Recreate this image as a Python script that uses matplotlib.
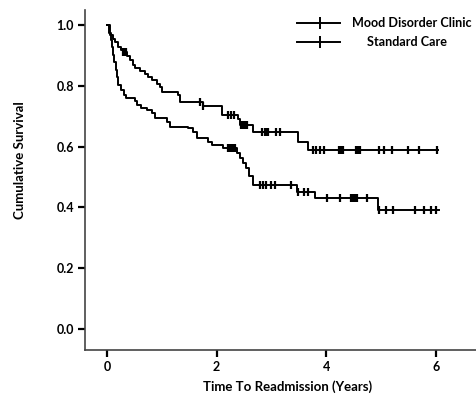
import matplotlib
matplotlib.use("Agg")
import matplotlib.pyplot as plt
from matplotlib.lines import Line2D

plt.rcParams['font.family'] = ['Lato', 'DejaVu Sans']
plt.rcParams['font.weight'] = 'bold'

# Mood Disorder Clinic: event times and survival after each event
mdc_times = [0.0, 0.055, 0.11, 0.146, 0.20, 0.255, 0.29, 0.365, 0.42, 0.47, 0.51, 0.60,
             0.69, 0.75, 0.82, 0.91, 0.97, 1.00, 1.30, 1.33, 1.75, 2.10, 2.39, 2.43,
             2.66, 3.49, 3.67, 6.04]
mdc_surv = [1.0, 0.967, 0.955, 0.944, 0.928, 0.918, 0.911, 0.898, 0.885, 0.868, 0.859, 0.849,
            0.839, 0.829, 0.819, 0.806, 0.796, 0.780, 0.770, 0.748, 0.733, 0.704, 0.690, 0.671,
            0.648, 0.615, 0.590, 0.590]
mdc_censor = [0.30, 0.32, 0.34, 1.70, 1.76, 2.21, 2.26, 2.32, 2.44, 2.48, 2.52, 2.56,
              2.83, 2.88, 2.90, 2.94, 3.08, 3.16, 3.76, 3.81, 3.89, 3.96,
              4.23, 4.25, 4.27, 4.29, 4.31, 4.54, 4.56, 4.58, 4.60, 4.62,
              4.96, 5.05, 5.20, 5.49, 5.69, 6.02]

# Standard Care
sc_times = [0.0, 0.04, 0.07, 0.09, 0.11, 0.13, 0.16, 0.18, 0.20, 0.255, 0.31, 0.35, 0.51,
            0.55, 0.62, 0.73, 0.82, 0.88, 1.09, 1.15, 1.48, 1.57, 1.64, 1.84, 1.92, 2.12,
            2.37, 2.43, 2.48, 2.54, 2.59, 2.66, 3.47, 3.80, 4.95, 6.06]
sc_surv = [1.0, 0.974, 0.95, 0.928, 0.90, 0.878, 0.852, 0.829, 0.803, 0.786, 0.770, 0.760, 0.750,
           0.737, 0.727, 0.720, 0.710, 0.694, 0.681, 0.664, 0.661, 0.648, 0.628, 0.615, 0.605, 0.595,
           0.579, 0.5625, 0.546, 0.530, 0.503, 0.472, 0.450, 0.432, 0.390, 0.390]
sc_censor = [2.21, 2.24, 2.27, 2.30, 2.33, 2.79, 2.85, 2.90, 3.00, 3.07, 3.36,
             3.49, 3.60, 3.67, 4.01, 4.25, 4.45, 4.49, 4.53, 4.57, 4.74,
             4.96, 5.09, 5.22, 5.62, 5.78, 5.91, 6.00]

series_names = ["Mood Disorder Clinic", "Standard Care"]
x_ticks = [0, 2, 4, 6]
y_ticks = [0.0, 0.2, 0.4, 0.6, 0.8, 1.0]


def surv_at(times, surv, t):
    s = surv[0]
    for ti, si in zip(times, surv):
        if ti <= t:
            s = si
        else:
            break
    return s


W, H = 477, 395
fig = plt.figure(figsize=(W / 100, H / 100), dpi=100)
ax = fig.add_axes([85 / W, 1 - 350 / H, 392 / W, 340 / H])

for times, surv, cens in [(mdc_times, mdc_surv, mdc_censor), (sc_times, sc_surv, sc_censor)]:
    ax.step(times, surv, where='post', color='black', lw=1.4)
    cy = [surv_at(times, surv, c) for c in cens]
    ax.plot(cens, cy, ls='none', marker='|', color='black', ms=5.5, mew=1.6)

ax.set_xlim(-0.40, 6.75)
ax.set_ylim(-0.069, 1.049)
ax.set_xticks(x_ticks)
ax.set_xticklabels([str(v) for v in x_ticks])
ax.set_yticks(y_ticks)
ax.set_yticklabels([f"{v:.1f}" for v in y_ticks])

for s in ['top', 'right']:
    ax.spines[s].set_visible(False)
for s in ['left', 'bottom']:
    ax.spines[s].set_color('#444444')
    ax.spines[s].set_linewidth(1.2)

ax.tick_params(direction='out', length=5, width=1.6, color='black', labelsize=9, pad=3)
for lab in ax.get_xticklabels() + ax.get_yticklabels():
    lab.set_fontweight('bold')

fig.text(288 / W, 1 - 387 / H, "Time To Readmission (Years)", fontsize=9.5,
         fontweight='bold', ha='center', va='center')
fig.text(20 / W, 1 - 160 / H, "Cumulative Survival", fontsize=9.5, fontweight='bold',
         rotation=90, ha='center', va='center')

# legend drawn manually (labels are centred on each other as in the original)
leg_rows = [(23, 412), (42, 407)]
for (yy, xc), name in zip(leg_rows, series_names):
    fy = 1 - yy / H
    fig.add_artist(Line2D([297 / W, 340 / W], [fy, fy], color='black', lw=1.4,
                          transform=fig.transFigure))
    fig.add_artist(Line2D([320 / W], [fy], color='black', marker='|', ms=8, mew=1.4,
                          transform=fig.transFigure))
    fig.text(xc / W, fy, name, fontsize=9.1, fontweight='bold', ha='center', va='center')

fig.savefig("out.png", dpi=100)
